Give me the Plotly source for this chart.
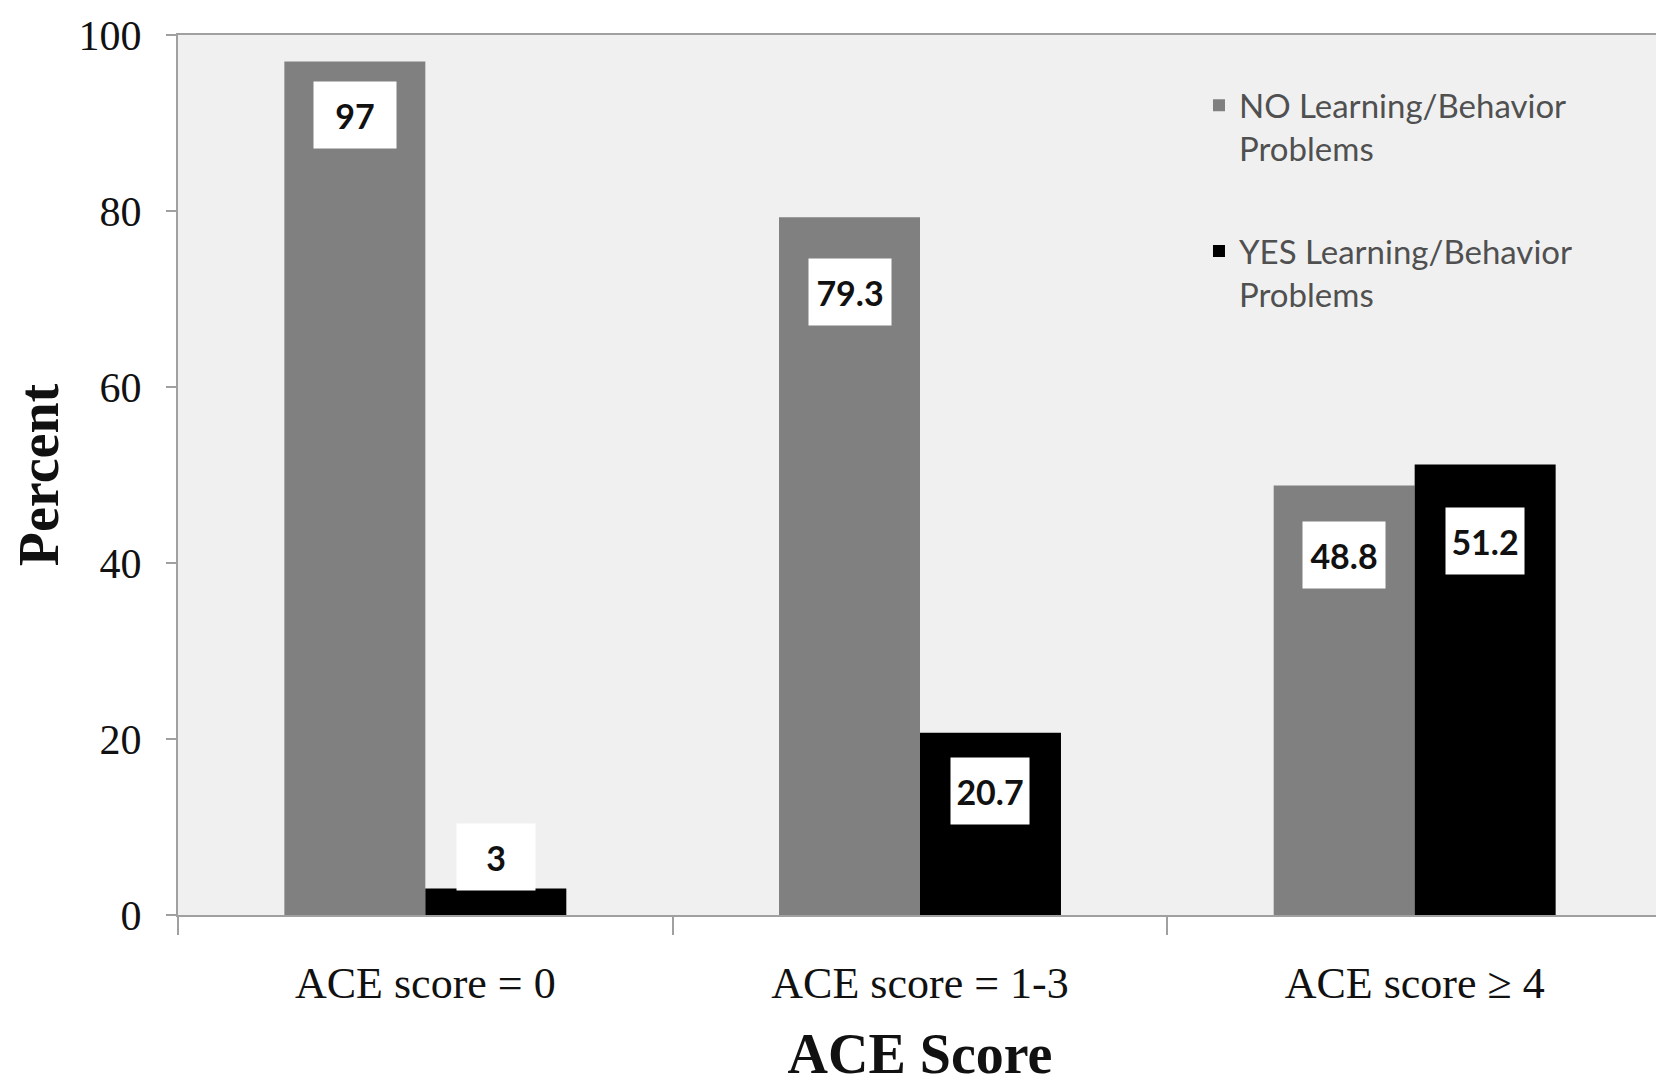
import plotly.graph_objects as go

categories = ["ACE score = 0", "ACE score = 1-3", "ACE score \u2265 4"]
no_problems = [97, 79.3, 48.8]
yes_problems = [3, 20.7, 51.2]
series_names = ["NO Learning/Behavior<br>Problems", "YES Learning/Behavior<br>Problems"]
y_ticks = [0, 20, 40, 60, 80, 100]

# pixel placement of the value boxes (vertical, relative to bar top)
label_shift_no = [-54, -75, -69]
label_shift_yes = [32, -58, -77]

x_pos = list(range(len(categories)))
bargap = 0.43
bar_w = (1 - bargap) / 2

fig = go.Figure()
fig.add_trace(go.Bar(x=x_pos, y=no_problems, name=series_names[0],
                     marker=dict(color="#808080", line=dict(width=0)),
                     legendgroup="a"))
fig.add_trace(go.Bar(x=x_pos, y=yes_problems, name=series_names[1],
                     marker=dict(color="#000000", line=dict(width=0)),
                     legendgroup="b"))

label_font = dict(family="Lato", size=34, color="#111111")
for i, v in enumerate(no_problems):
    fig.add_annotation(x=x_pos[i] - bar_w / 2, y=v, xref="x", yref="y",
                       text=f"<b>{v:g}</b>", showarrow=False, yanchor="middle",
                       yshift=label_shift_no[i], bgcolor="#ffffff",
                       width=78, height=62, borderpad=2, font=label_font)
for i, v in enumerate(yes_problems):
    fig.add_annotation(x=x_pos[i] + bar_w / 2, y=v, xref="x", yref="y",
                       text=f"<b>{v:g}</b>", showarrow=False, yanchor="middle",
                       yshift=label_shift_yes[i], bgcolor="#ffffff",
                       width=74, height=62, borderpad=2, font=label_font)

serif = "Liberation Serif"
fig.update_layout(
    width=1656, height=1077,
    margin=dict(l=170, r=2, t=27, b=170),
    paper_bgcolor="#ffffff",
    plot_bgcolor="#f0f0f0",
    barmode="group",
    bargap=bargap,
    bargroupgap=0,
    showlegend=True,
    legend=dict(x=0.688, y=0.952, xanchor="left", yanchor="top",
                bgcolor="rgba(0,0,0,0)", tracegroupgap=57, valign="top",
                font=dict(family="Lato", size=33, color="#505050")),
    xaxis=dict(
        range=[-0.5, len(categories) - 0.5],
        tickvals=x_pos, ticktext=categories, ticks="",
        tickfont=dict(family=serif, size=44, color="#111111"),
        ticklabelstandoff=28, automargin=False, ticklabeloverflow="allow",
        showline=True, linecolor="#a0a0a0", linewidth=2, mirror=True,
        showgrid=False, zeroline=False,
        minor=dict(tickvals=[i - 0.5 for i in range(len(categories) + 1)],
                   ticks="outside", ticklen=18, tickcolor="#a0a0a0", tickwidth=2),
        title=dict(text="<b>ACE Score</b>", standoff=39,
                   font=dict(family=serif, size=56, color="#111111")),
    ),
    yaxis=dict(
        range=[0, 100], tickvals=y_ticks,
        ticks="outside", ticklen=10, tickcolor="#a0a0a0", tickwidth=2,
        tickfont=dict(family=serif, size=42, color="#111111"),
        ticklabelstandoff=16, automargin=False, ticklabeloverflow="allow",
        showline=True, linecolor="#a0a0a0", linewidth=2, mirror=True,
        showgrid=False, zeroline=False,
        title=dict(text="<b>Percent</b>", standoff=26,
                   font=dict(family=serif, size=56, color="#111111")),
    ),
)

fig.write_html("out.html")
